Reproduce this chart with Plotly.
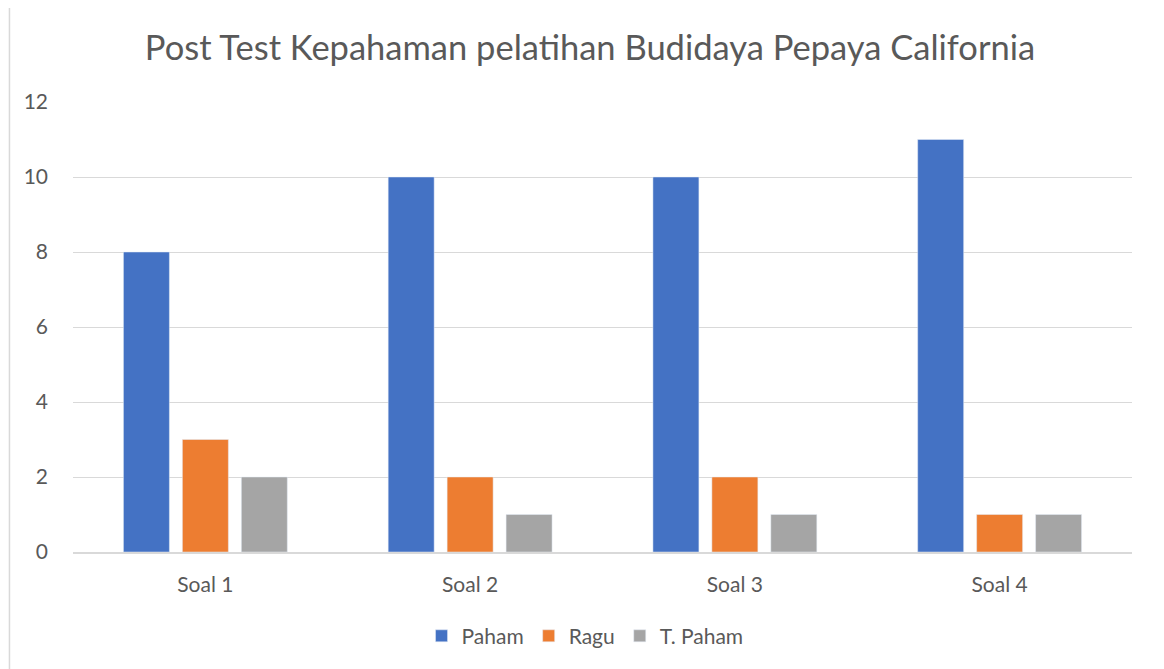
import plotly.graph_objects as go

categories = ["Soal 1", "Soal 2", "Soal 3", "Soal 4"]
paham = [8, 10, 10, 11]
ragu = [3, 2, 2, 1]
t_paham = [2, 1, 1, 1]

FONT = "Lato"
TXT = "#595959"

fig = go.Figure()
fig.add_trace(go.Bar(name="Paham", x=categories, y=paham, marker_color="#4472C4"))
fig.add_trace(go.Bar(name="Ragu", x=categories, y=ragu, marker_color="#ED7D31"))
fig.add_trace(go.Bar(name="T. Paham", x=categories, y=t_paham, marker_color="#A5A5A5"))

fig.update_layout(
    width=1164, height=669,
    margin=dict(l=65, r=40, t=94, b=125),
    paper_bgcolor="white", plot_bgcolor="white",
    barmode="group", bargap=0.332, bargroupgap=0.22,
    title=dict(text="Post Test Kepahaman pelatihan Budidaya Pepaya California",
               x=0.5, xanchor="center", y=1 - 40 / 669, yanchor="middle",
               font=dict(family=FONT, size=34.5, color=TXT)),
    font=dict(family=FONT, size=20, color=TXT),
    legend=dict(orientation="h", x=0.4835, xanchor="center", y=-0.187, yanchor="middle",
                font=dict(family=FONT, size=21, color=TXT), itemwidth=30,
                traceorder="normal"),
    xaxis=dict(showgrid=False, showline=True, linecolor="#d9d9d9", linewidth=1.5,
               ticks="", ticklabelstandoff=13, tickfont=dict(size=21, color=TXT)),
    yaxis=dict(range=[0, 12], dtick=2, showgrid=True, gridcolor="#d9d9d9", gridwidth=1.3,
               zeroline=False, showline=False, ticks="", ticklabelstandoff=24,
               tickfont=dict(size=21, color=TXT)),
    shapes=[dict(type="rect", xref="paper", yref="paper",
                 x0=-0.06, x1=1.0264, y0=-0.28, y1=1.2189,
                 line=dict(color="#d9d9d9", width=1.5), fillcolor="rgba(0,0,0,0)",
                 layer="below")],
)

fig.write_html("out.html")
